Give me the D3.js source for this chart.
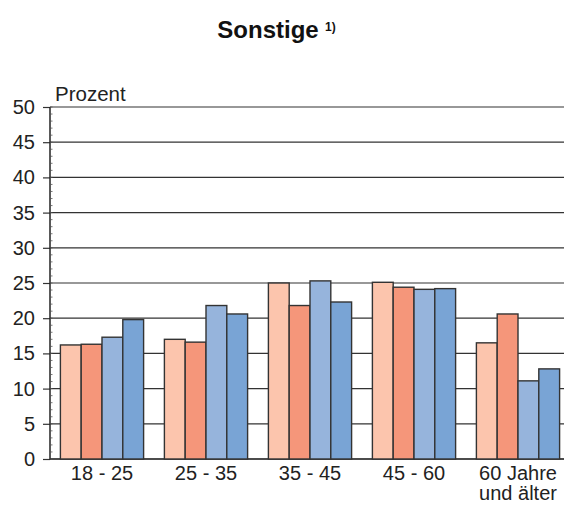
<!DOCTYPE html>
<html><head><meta charset="utf-8">
<script src="https://cdn.jsdelivr.net/npm/d3@7"></script>
<style>body{margin:0;background:#fff}svg{display:block;font-family:"Liberation Sans",Arial,sans-serif}</style>
</head><body><svg id="c" width="564" height="505"></svg>
<script>
const categories = ["18 - 25", "25 - 35", "35 - 45", "45 - 60", "60 Jahre\nund älter"];
const series1 = [16.2, 17.0, 25.0, 25.1, 16.5];
const series2 = [16.3, 16.6, 21.8, 24.4, 20.6];
const series3 = [17.3, 21.8, 25.3, 24.1, 11.1];
const series4 = [19.8, 20.6, 22.3, 24.2, 12.8];
const yTicks = [0, 5, 10, 15, 20, 25, 30, 35, 40, 45, 50];
const colors = ["#fcc5ad", "#f5967a", "#96b4dc", "#79a4d5"];
const seriesAll = [series1, series2, series3, series4];

(function(){
const svg = d3.select("#c");
const mLeft = 50, mRight = 564, mTop = 107, mBottom = 459;
const y = d3.scaleLinear().domain([0, 50]).range([mBottom, mTop]);
const x0 = d3.scaleBand().domain(categories).range([50, 570]).paddingInner(0.2).paddingOuter(0.1);
const x1 = d3.scaleBand().domain(d3.range(4)).range([0, x0.bandwidth()]);

// gridlines
svg.append("g").selectAll("line").data(yTicks).join("line")
  .attr("x1", mLeft).attr("x2", mRight)
  .attr("y1", d => y(d)).attr("y2", d => y(d))
  .attr("stroke", d => d === 0 ? "#111" : "#333").attr("stroke-width", d => d === 0 ? 1.5 : 1.2);

// bars
const g = svg.append("g");
categories.forEach((c, i) => {
  seriesAll.forEach((s, j) => {
    g.append("rect")
      .attr("x", x0(c) + x1(j))
      .attr("y", y(s[i]))
      .attr("width", x1.bandwidth())
      .attr("height", y(0) - y(s[i]))
      .attr("fill", colors[j])
      .attr("stroke", "#333").attr("stroke-width", 1.4);
  });
});

// y axis
const yAxis = d3.axisLeft(y).tickValues(yTicks).tickSize(7).tickPadding(8);
const ya = svg.append("g").attr("transform", `translate(${mLeft},0)`).call(yAxis);
ya.attr("font-family", null).attr("font-size", null);
ya.select(".domain").remove();
ya.selectAll(".tick line").attr("stroke", "#333").attr("stroke-width", 1.2);
ya.selectAll(".tick text").attr("font-size", 20).attr("fill", "#222");
svg.append("line").attr("x1", mLeft).attr("x2", mLeft).attr("y1", mTop).attr("y2", mBottom + 0.5)
  .attr("stroke", "#222").attr("stroke-width", 1.5);
// minor ticks
svg.append("g").selectAll("line").data(d3.range(0, 51, 1)).join("line")
  .attr("x1", mLeft).attr("x2", mLeft + 2.5)
  .attr("y1", d => y(d)).attr("y2", d => y(d))
  .attr("stroke", "#555").attr("stroke-width", 0.8);

// x labels
categories.forEach(c => {
  const lines = c.split("\n");
  const cx = x0(c) + x0.bandwidth() / 2;
  const t = svg.append("text").attr("x", cx).attr("y", 480)
    .attr("text-anchor", "middle").attr("font-size", 20).attr("fill", "#222");
  lines.forEach((l, k) => t.append("tspan").attr("x", cx).attr("dy", k ? 20 : 0).text(l));
});

// title
svg.append("text").attr("x", 268).attr("y", 38).attr("text-anchor", "middle")
  .attr("font-size", 24).attr("font-weight", "bold").attr("fill", "#111").text("Sonstige");
svg.append("text").attr("x", 325).attr("y", 31)
  .attr("font-size", 12).attr("font-weight", "bold").attr("fill", "#111").text("1)");

svg.append("text").attr("x", 55).attr("y", 101).attr("font-size", 20.5).attr("fill", "#222").text("Prozent");
})();
</script></body></html>
